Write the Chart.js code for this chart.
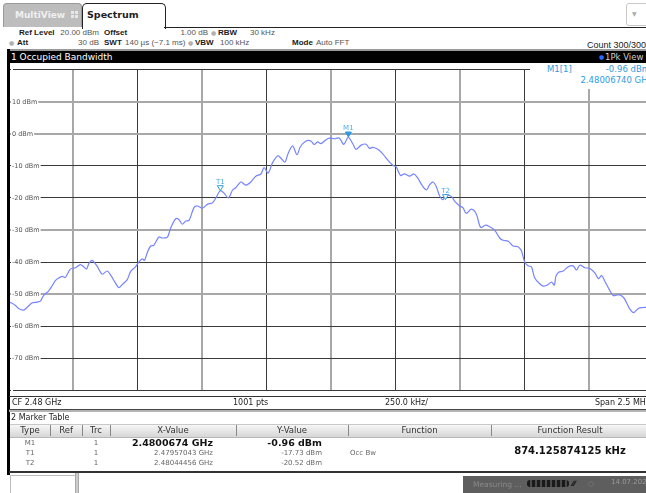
<!DOCTYPE html>
<html lang="en">
<head>
<meta charset="UTF-8">
<title>Spectrum - Occupied Bandwidth</title>
<script src="https://cdn.jsdelivr.net/npm/chart.js"></script>
<style>
  body { margin: 0; width: 646px; height: 493px; overflow: hidden; background: #fff; position: relative;
         font-family: 'DejaVu Sans', sans-serif; color: #333; }
  .t { position: absolute; white-space: nowrap; line-height: 10px; height: 10px; }
  .r { text-align: right; }
  .c { text-align: center; }
  .b { font-weight: bold; color: #222; }
  .box { position: absolute; }
  .hdr { font-size: 8px; }
  .inf { font-family: 'Liberation Sans', sans-serif; font-size: 8px; color: #555; }
  .inf.b { color: #1a1a1a; }
  .dot { color: #b0b0b0; font-size: 6px; }
  .blue { color: #2f9be0; font-size: 8.5px; }
  .th { font-size: 8.5px; color: #333; }
  .td { font-size: 7px; color: #666; }
  #plot { position: absolute; left: 9px; top: 63px; }
</style>
</head>
<body>

<!-- tab bar -->
<div class="box" style="left:3px;top:3px;width:77px;height:23px;background:#bdbdbd;border:1px solid #9a9a9a;border-bottom:none;border-radius:4px 4px 0 0;"></div>
<div class="t b" style="left:15px;top:10px;font-size:9px;color:#f0f0f0;">MultiView</div>
<div class="box" style="left:71px;top:11px;width:7px;height:7px;background:
  linear-gradient(90deg, transparent 3px, #bdbdbd 3px, #bdbdbd 4px, transparent 4px),
  linear-gradient(transparent 3px, #bdbdbd 3px, #bdbdbd 4px, transparent 4px), #e8e8e8;"></div>
<div class="box" style="left:82px;top:3px;width:82px;height:25px;background:#fff;border:1px solid #222;border-bottom:none;border-radius:5px 5px 0 0;"></div>
<div class="t b" style="left:87px;top:9px;font-size:9.5px;height:12px;line-height:12px;">Spectrum</div>
<div class="box" style="left:164px;top:27px;width:482px;height:1px;background:#222;"></div>
<div class="box" style="left:626px;top:3px;width:22px;height:21px;border:1px solid #c8c8c8;border-radius:3px;"></div>
<div class="t" style="left:632px;top:9px;font-size:6px;color:#aaa;">&#9660;</div>

<!-- header info -->
<div class="t inf b" style="left:19px;top:28px;">Ref Level</div>
<div class="t inf r" style="left:50px;width:49px;top:28px;">20.00 dBm</div>
<div class="t inf b" style="left:104px;top:28px;">Offset</div>
<div class="t inf r" style="left:160px;width:48px;top:28px;">1.00 dB</div>
<div class="t dot" style="left:211px;top:28px;">&#9679;</div>
<div class="t inf b" style="left:218px;top:28px;">RBW</div>
<div class="t inf" style="left:250px;top:28px;">30 kHz</div>

<div class="t dot" style="left:9px;top:38px;">&#9679;</div>
<div class="t inf b" style="left:17px;top:38px;">Att</div>
<div class="t inf r" style="left:50px;width:49px;top:38px;">30 dB</div>
<div class="t inf b" style="left:104px;top:38px;">SWT</div>
<div class="t inf" style="left:125px;top:38px;">140 &micro;s (~7.1 ms)</div>
<div class="t dot" style="left:188px;top:38px;">&#9679;</div>
<div class="t inf b" style="left:195px;top:38px;">VBW</div>
<div class="t inf" style="left:220px;top:38px;">100 kHz</div>
<div class="t inf b" style="left:292px;top:38px;">Mode</div>
<div class="t inf" style="left:316px;top:38px;">Auto FFT</div>
<div class="t inf r" style="right:0;top:40px;color:#222;font-size:9px;">Count 300/300</div>

<!-- title bar -->
<div class="box" style="left:8px;top:49px;width:640px;height:14px;background:linear-gradient(#9a9a9a 0, #9a9a9a 2px, #000 2px);"></div>
<div class="t" style="left:11px;top:52px;font-size:9px;color:#fff;">1 Occupied Bandwidth</div>
<div class="t" style="left:599px;top:52px;font-size:6px;color:#2a6cff;">&#9679;</div>
<div class="t" style="left:605px;top:52px;font-size:8.5px;color:#cfcfcf;">1Pk View</div>

<canvas id="plot" width="644" height="334"></canvas>

<!-- marker info -->
<div class="box" style="left:530px;top:63px;width:120px;height:26px;background:#fff;"></div>
<div class="t blue" style="left:547px;top:64px;">M1[1]</div>
<div class="t blue r" style="right:-4px;top:64px;">-0.96 dBm</div>
<div class="t blue r" style="right:-6px;top:75px;">2.48006740 GHz</div>

<!-- left border -->
<div class="box" style="left:7px;top:49px;width:3px;height:426px;background:#000;"></div>

<!-- below plot -->
<div class="box" style="left:9px;top:396px;width:640px;height:1px;background:#333;"></div>
<div class="t hdr" style="left:12px;top:398px;color:#222;">CF 2.48 GHz</div>
<div class="t hdr" style="left:233px;top:398px;color:#222;">1001 pts</div>
<div class="t hdr" style="left:385px;top:398px;color:#222;">250.0 kHz/</div>
<div class="t hdr r" style="right:-4px;top:398px;color:#222;">Span 2.5 MHz</div>
<div class="box" style="left:9px;top:409px;width:640px;height:1px;background:#444;"></div>
<div class="box" style="left:9px;top:410px;width:640px;height:2px;background:#b4b4b4;"></div>

<!-- marker table -->
<div class="t hdr" style="left:11px;top:413px;color:#222;">2 Marker Table</div>
<div class="box" style="left:10px;top:424px;width:640px;height:12px;background:linear-gradient(#f6f6f6,#d6d6d6);border-top:1px solid #c8c8c8;border-bottom:1px solid #b8b8b8;"></div>
<div class="box" style="left:50px;top:425px;width:1px;height:11px;background:#888;"></div>
<div class="box" style="left:82px;top:425px;width:1px;height:11px;background:#888;"></div>
<div class="box" style="left:110px;top:425px;width:1px;height:11px;background:#888;"></div>
<div class="box" style="left:236px;top:425px;width:1px;height:11px;background:#888;"></div>
<div class="box" style="left:348px;top:425px;width:1px;height:11px;background:#888;"></div>
<div class="box" style="left:491px;top:425px;width:1px;height:11px;background:#888;"></div>
<div id="table"></div>
<div class="box" style="left:9px;top:471px;width:640px;height:2px;background:#333;"></div>

<!-- status bar -->
<div class="box" style="left:10px;top:475px;width:64px;height:20px;background:#fff;border:1px solid #bbb;"></div>
<div class="box" style="left:75px;top:473px;width:4px;height:22px;background:linear-gradient(90deg,#999,#ddd,#999);"></div>
<div class="box" style="left:463px;top:476px;width:185px;height:19px;background:#5e5e5e;"></div>
<div class="t" style="left:473px;top:480px;font-size:7.5px;color:#8a8a8a;">Measuring ...</div>
<div class="box" style="left:527px;top:480px;width:42px;height:7px;background:repeating-linear-gradient(90deg,#1a1a1a 0,#1a1a1a 3px,#4a4a4a 3px,#4a4a4a 5px);border-radius:3px;"></div>
<div class="t" style="left:572px;top:479px;font-size:7px;color:#111;font-weight:bold;">&#8260;&#8260;&#8260;</div>
<div class="t" style="left:588px;top:479px;font-size:7px;color:#888;">&#9675;</div>
<div class="t" style="left:611px;top:477px;font-size:7px;color:#9a9a9a;">14.07.2021</div>

<script>
  // trace: frequency offset from CF 2.48 GHz (kHz) and level (dBm)
  var freqKHz = [-1250, -1240, -1226, -1213, -1193, -1180, -1161, -1141, -1128, -1116, -1096, -1083, -1070, -1057,
    -1044, -1031, -1012, -992, -973, -960, -949, -940, -927, -908, -888, -869, -856, -837, -824, -810, -791, -778,
    -759, -746, -733, -724, -713, -700, -688, -668, -655, -635, -623, -603, -590, -577, -564, -551, -532, -519,
    -499, -480, -460, -447, -430, -415, -398, -382, -370, -350, -331, -311, -292, -272, -260, -244, -227, -207,
    -195, -179, -166, -149, -132, -119, -97, -78, -65, -52, -39, -19, -7, 13, 32, 49, 58, 67, 84, 97, 117, 136,
    149, 162, 182, 201, 221, 240, 253, 270, 285, 305, 322, 337, 353, 370, 382, 396, 409, 421, 435, 445, 467, 480,
    499, 512, 525, 545, 564, 581, 600, 616, 635, 655, 668, 688, 707, 726, 739, 752, 765, 778, 791, 810, 824, 840,
    856, 867, 873, 884, 902, 921, 940, 953, 966, 986, 1005, 1025, 1038, 1051, 1063, 1083, 1096, 1116, 1135, 1148,
    1161, 1174, 1193, 1213, 1230, 1250];
  var levelDbm = [-52.5, -52.8, -53.5, -54.5, -55, -54.2, -52.8, -52.5, -52.2, -50.5, -49, -47.5, -45.8, -45,
    -44.5, -44.8, -42.2, -41.8, -40.8, -41.5, -42.2, -40.5, -39.5, -41.3, -43.8, -42.8, -44, -46.5, -48, -47, -45.5, -43,
    -41.5, -40, -39, -39.5, -37, -35, -34.8, -32.2, -32.5, -32.2, -29.5, -26.5, -26.8, -28.2, -27.2, -27, -23, -22.5,
    -23.2, -22, -21.5, -20, -17.73, -18.5, -20, -17.5, -16.8, -15, -16, -15, -13.2, -12.5, -10.5, -12.2, -9, -6.8,
    -7.5, -8.8, -6, -3.7, -6.5, -4, -2.2, -2.2, -3.3, -2.5, -3, -1.8, -1.3, -1.5, -1.3, -3.3, -2.2, -0.96, -3, -4.8, -3.5, -3.2,
    -4.5, -4.2, -4.8, -6.2, -8.2, -9.8, -10.3, -13, -12.5, -13.2, -12.5, -13.8, -16, -17.5, -16, -15, -16.5, -19.2, -20.52, -19,
    -19.5, -21, -22.5, -23, -24.8, -23.5, -25, -29.2, -28.5, -29, -30, -32.5, -33.2, -33.5, -35, -35.2, -36.5, -40, -41.2,
    -41.5, -45, -46.8, -47.5, -47.2, -46.3, -47.2, -44.5, -43.2, -42.8, -41.5, -41.2, -42.5, -41, -41.8, -42, -43.5, -45.2,
    -44.2, -46, -49, -50.5, -50.2, -51, -52.8, -54.8, -55.8, -54.5, -54.2, -54];

  // markers
  var markerNames = ['M1', 'T1', 'T2'];
  var markerFreqKHz = [67.4, -429.57, 444.56];
  var markerLevel = [-0.96, -17.73, -20.52];

  // marker table rows
  var tableType = ['M1', 'T1', 'T2'];
  var tableTrc = ['1', '1', '1'];
  var tableX = ['2.4800674 GHz', '2.47957043 GHz', '2.48044456 GHz'];
  var tableY = ['-0.96 dBm', '-17.73 dBm', '-20.52 dBm'];
  var occBwResult = '874.125874125 kHz';

  // axis
  var spanMin = -1250, spanMax = 1250, divKHz = 250;
  var refMin = -80, refMax = 20, divDb = 10;
  var heavyLevels = [10, 0, -30, -50];

  var html = '';
  var headers = [['Type', 10, 40], ['Ref', 50, 32], ['Trc', 82, 28], ['X-Value', 110, 126], ['Y-Value', 236, 112],
                 ['Function', 348, 143], ['Function Result', 491, 158]];
  headers.forEach(function (h) {
    html += '<div class="t th c" style="left:' + h[1] + 'px;width:' + h[2] + 'px;top:425px;">' + h[0] + '</div>';
  });
  var rowTop = [438, 448, 458];
  for (var i = 0; i < tableType.length; i++) {
    var bold = i === 0;
    var st = bold ? 'font-size:9.5px;font-weight:bold;color:#111;' : '';
    html += '<div class="t td c" style="left:10px;width:40px;top:' + rowTop[i] + 'px;">' + tableType[i] + '</div>';
    html += '<div class="t td c" style="left:82px;width:28px;top:' + rowTop[i] + 'px;">' + tableTrc[i] + '</div>';
    html += '<div class="t td r" style="left:110px;width:103px;top:' + rowTop[i] + 'px;' + st + '">' + tableX[i] + '</div>';
    html += '<div class="t td r" style="left:236px;width:86px;top:' + rowTop[i] + 'px;' + st + '">' + tableY[i] + '</div>';
  }
  html += '<div class="t td" style="left:350px;top:448px;">Occ Bw</div>';
  html += '<div class="t c" style="left:491px;width:158px;top:446px;font-size:10px;font-weight:bold;color:#111;">' + occBwResult + '</div>';
  document.getElementById('table').innerHTML = html;

  var points = freqKHz.map(function (f, i) { return { x: f, y: levelDbm[i] }; });

  var markerPlugin = {
    id: 'markers',
    afterDatasetsDraw: function (chart) {
      var ctx = chart.ctx, xs = chart.scales.x, ys = chart.scales.y;
      ctx.save();
      for (var i = 0; i < markerNames.length; i++) {
        var px = xs.getPixelForValue(markerFreqKHz[i]);
        var py = ys.getPixelForValue(markerLevel[i]);
        ctx.beginPath();
        ctx.moveTo(px, py);
        ctx.lineTo(px - 3, py - 5);
        ctx.lineTo(px + 3, py - 5);
        ctx.closePath();
        ctx.lineWidth = 1;
        ctx.strokeStyle = '#2f9be0';
        ctx.fillStyle = i === 0 ? '#2f9be0' : '#ffffff';
        ctx.fill();
        ctx.stroke();
        ctx.fillStyle = '#4aaee8';
        ctx.font = '7px "DejaVu Sans"';
        ctx.textAlign = 'center';
        ctx.textBaseline = 'bottom';
        ctx.fillText(markerNames[i], px, py - 5);
      }
      ctx.restore();
    }
  };

  function gridColor(c) {
    return c.index % 2 ? '#a8a8a8' : '#3a3a3a';
  }

  new Chart(document.getElementById('plot'), {
    type: 'line',
    data: {
      datasets: [{
        data: points,
        borderColor: 'rgb(118, 132, 255)',
        borderWidth: 1.2,
        pointRadius: 0,
        tension: 0.3,
        fill: false
      }]
    },
    options: {
      responsive: false,
      animation: false,
      devicePixelRatio: 1,
      layout: { padding: 0 },
      plugins: { legend: { display: false }, tooltip: { enabled: false } },
      scales: {
        x: {
          type: 'linear',
          min: spanMin,
          max: spanMax,
          afterFit: function (s) { s.height = 0; },
          border: { display: false },
          ticks: { display: false, stepSize: divKHz },
          grid: {
            drawTicks: false,
            color: gridColor,
            lineWidth: function (c) { return c.index % 2 ? 2 : 1; }
          }
        },
        y: {
          min: refMin,
          max: refMax,
          afterFit: function (s) { s.width = 0; },
          border: { display: false },
          ticks: {
            stepSize: divDb,
            mirror: true,
            padding: 3,
            color: '#555',
            font: { family: 'DejaVu Sans', size: 6.5 },
            showLabelBackdrop: true,
            backdropColor: '#ffffff',
            backdropPadding: { left: 1, right: 1, top: 0, bottom: 0 },
            callback: function (v) {
              if (v === refMax || v === refMin) return '';
              return v + ' dBm';
            }
          },
          grid: {
            drawTicks: false,
            color: function (c) {
              return heavyLevels.indexOf(c.tick.value) >= 0 ? '#a8a8a8' : '#3a3a3a';
            },
            lineWidth: function (c) {
              return heavyLevels.indexOf(c.tick.value) >= 0 ? 2 : 1;
            }
          }
        }
      }
    },
    plugins: [markerPlugin]
  });
</script>
</body>
</html>
